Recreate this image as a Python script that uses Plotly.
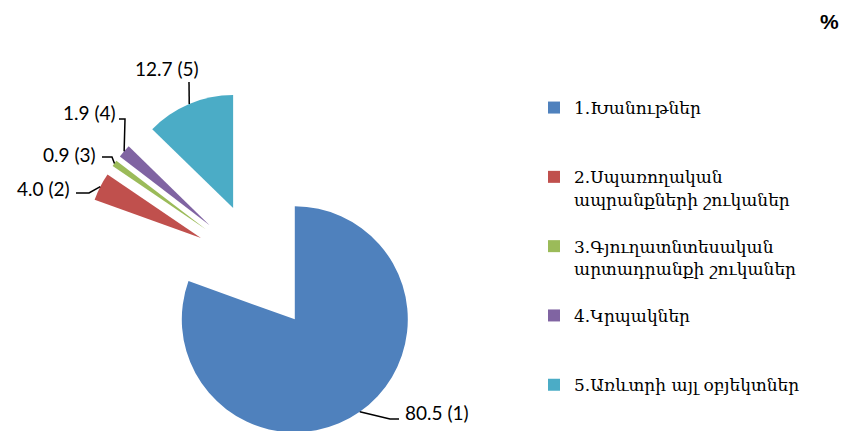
import math
import plotly.graph_objects as go

# ---------------- data ----------------
categories = [
    "1.Խանութներ",
    "2.Սպառողական ապրանքների շուկաներ",
    "3.Գյուղատնտեսական արտադրանքի շուկաներ",
    "4.Կրպակներ",
    "5.Առևտրի այլ օբյեկտներ",
]
values = [80.5, 4.0, 0.9, 1.9, 12.7]
colors = ["#4F81BD", "#C0504D", "#9BBB59", "#8064A2", "#4BACC6"]
unit_label = "%"

# ---------------- geometry (pixels) ----------------
W, H = 843, 448
CX, CY = 258, 267      # pie centre before explosion
R = 113                # slice radius
EXPLODE = 64           # explosion distance of each slice
pull = EXPLODE / R
half = R * (1 + pull)


def px(x):
    return x / W


def py(y):
    return 1 - y / H


# legend labels: wrap long names on first space, pad to 3 lines (not the last)
def legend_label(s, last):
    if len(s) > 25:
        a, b = s.split(" ", 1)
        lines = [a, b]
    else:
        lines = [s]
    while not last and len(lines) < 3:
        lines.append(" ")
    return "<br>".join(lines)


disp_labels = [legend_label(c, i == len(categories) - 1) for i, c in enumerate(categories)]

fig = go.Figure(
    go.Pie(
        labels=disp_labels,
        values=values,
        sort=False,
        direction="clockwise",
        rotation=0,
        pull=[pull] * len(values),
        marker=dict(colors=colors, line=dict(width=0)),
        textinfo="none",
        hoverinfo="label+value",
        domain=dict(x=[px(CX - half), px(CX + half)], y=[py(CY + half), py(CY - half)]),
    )
)

# ---------------- data labels with leader lines ----------------
total = sum(values)
anchors = []
cum = 0.0
for v in values:
    th = 2 * math.pi * (cum + v / 2) / total
    ux, uy = math.sin(th), -math.cos(th)
    anchors.append((CX + (EXPLODE + R) * ux, CY + (EXPLODE + R) * uy))
    cum += v

# leader-line bend points and label placement (pixels)
label_layout = [
    dict(path=[(390, 419), (399, 419)], pos=(403, 412), xa="left"),
    dict(path=[(89, 193), (76, 193)], pos=(72, 188), xa="right"),
    dict(path=[(112, 157), (102, 157)], pos=(98, 155), xa="right"),
    dict(path=[(125, 119), (119, 119)], pos=(118, 113), xa="right"),
    dict(path=[(189, 82)], pos=(167, 68), xa="center"),
]

shapes = []
annotations = []
for i, (v, (ax, ay), lay) in enumerate(zip(values, anchors, label_layout)):
    pts = [(ax, ay)] + lay["path"]
    d = "M " + " L ".join(f"{px(x):.5f},{py(y):.5f}" for x, y in pts)
    shapes.append(dict(type="path", xref="paper", yref="paper", path=d,
                       line=dict(color="black", width=1.5)))
    annotations.append(dict(
        text=f"{v:.1f} ({i + 1})", xref="paper", yref="paper",
        x=px(lay["pos"][0]), y=py(lay["pos"][1]),
        xanchor=lay["xa"], yanchor="middle", showarrow=False,
        font=dict(family="Lato, Carlito, Arial", size=19, color="black"),
    ))

annotations.append(dict(
    text=f"<b>{unit_label}</b>", xref="paper", yref="paper",
    x=px(841), y=py(21), xanchor="right", yanchor="middle", showarrow=False,
    font=dict(family="Liberation Sans, Arial", size=21, color="black"),
))

fig.update_layout(
    width=W, height=H,
    margin=dict(l=0, r=0, t=0, b=0, autoexpand=False),
    paper_bgcolor="white",
    plot_bgcolor="white",
    showlegend=True,
    legend=dict(
        x=px(534), y=py(90), xanchor="left", yanchor="top",
        font=dict(family="DejaVu Serif, serif", size=17, color="black"),
        valign="top", bgcolor="rgba(0,0,0,0)",
    ),
    shapes=shapes,
    annotations=annotations,
)

fig.write_html(
    "out.html",
    config={"displayModeBar": False},
    post_script="document.body.style.margin='0';document.body.style.overflow='hidden';",
)
